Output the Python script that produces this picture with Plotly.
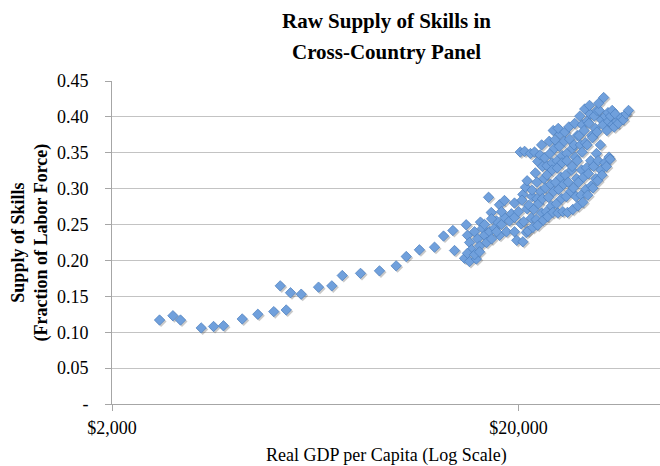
import math
import plotly.graph_objects as go

# Development path of lower-income countries (real GDP per capita, USD)
gdp_path = [2618, 2824, 2948, 3315, 3555, 3760, 4182, 4568, 5000, 5187, 5366,
            5497, 5841, 6443, 6946, 7370, 8173, 9100, 10000, 10590, 11410,
            12430, 13080, 13790, 13920, 14870, 16120, 16880, 17140, 17960, 18470]
skill_path = [0.117, 0.123, 0.117, 0.106, 0.108, 0.109, 0.1185, 0.125, 0.1287,
              0.1646, 0.131, 0.155, 0.153, 0.1628, 0.1646, 0.179, 0.182, 0.1855,
              0.1925, 0.2055, 0.2148, 0.2185, 0.234, 0.2417, 0.2138, 0.2497,
              0.2534, 0.288, 0.2668, 0.2775, 0.2835]

# Middle-income group just below $20,000
gdp_middle = [14730, 15150, 15750, 14980, 15160, 15330, 15590, 15860, 16040,
              16310, 16500, 16690, 16980, 17170, 17460, 17660, 17960, 18160,
              18470, 18680, 19000, 19210, 14980, 15590, 16040, 16500, 17170,
              17660, 18160, 19550, 19550, 19550]
skill_middle = [0.203, 0.1985, 0.202, 0.235, 0.225, 0.215, 0.240, 0.230, 0.220,
                0.245, 0.235, 0.225, 0.240, 0.230, 0.245, 0.255, 0.235, 0.250,
                0.260, 0.240, 0.255, 0.265, 0.210, 0.208, 0.212, 0.250, 0.258,
                0.240, 0.268, 0.240, 0.260, 0.280]

# High-income panel observations
gdp_high = [
    19800, 20300, 20000, 20500, 20200,
    20500, 20900, 20600, 21000, 20400, 20800, 20700,
    21100, 21500, 21200, 21600, 21000, 21400,
    21700, 22100, 21800, 22200, 21600, 22000, 22300, 21900,
    22300, 22800, 22400, 22700, 22200, 22900, 22600,
    23000, 23400, 22900, 23300, 23100, 23500, 23200, 22800,
    23600, 24100, 23700, 24000, 23500, 24200, 23900, 23800,
    24300, 24800, 24400, 24700, 24200, 24900, 24500, 24600, 24350,
    25000, 25500, 25100, 25400, 24900, 25600, 25200, 25300, 25050,
    25700, 26200, 25800, 26100, 25600, 26300, 25900, 26000,
    26400, 26900, 26500, 27000, 26300, 27100, 26700, 26600,
    27200, 27700, 27300, 27800, 27100, 27600, 27400, 27900, 27500,
    28000, 28500, 28100, 28600, 27900, 28400, 28200, 28700, 28300,
    28800, 29300, 28900, 29400, 28700, 29200, 29000, 29500, 29100,
    29600, 30200, 29700, 30100, 29500, 30300, 29800, 30000, 29900,
    30500, 31000, 30600, 31100, 30400, 30900, 30700, 31200,
    31300, 31900, 31400, 31800, 31200, 32000, 31600, 31500,
    32100, 32600, 32300, 32700, 32400,
    32900, 33400, 33000, 33300, 33200,
    33600, 34100, 33700, 34000,
    34400, 34900, 34600,
    35200, 35800,
    36200, 36800, 37300,
]
skill_high = [
    0.228, 0.251, 0.268, 0.292, 0.351,
    0.226, 0.239, 0.254, 0.272, 0.284, 0.302, 0.352,
    0.241, 0.259, 0.277, 0.289, 0.311, 0.349,
    0.246, 0.257, 0.271, 0.286, 0.298, 0.322, 0.338, 0.351,
    0.249, 0.266, 0.279, 0.296, 0.309, 0.331, 0.347,
    0.256, 0.268, 0.286, 0.301, 0.314, 0.332, 0.343, 0.361,
    0.261, 0.276, 0.288, 0.306, 0.319, 0.336, 0.349, 0.366,
    0.267, 0.279, 0.296, 0.309, 0.326, 0.339, 0.356, 0.368, 0.381,
    0.266, 0.286, 0.299, 0.316, 0.329, 0.346, 0.359, 0.376, 0.384,
    0.268, 0.289, 0.306, 0.319, 0.336, 0.349, 0.366, 0.379,
    0.267, 0.296, 0.309, 0.326, 0.339, 0.356, 0.369, 0.386,
    0.271, 0.289, 0.301, 0.314, 0.331, 0.344, 0.361, 0.374, 0.391,
    0.276, 0.291, 0.309, 0.326, 0.339, 0.361, 0.374, 0.389, 0.401,
    0.281, 0.299, 0.316, 0.329, 0.351, 0.364, 0.381, 0.394, 0.411,
    0.291, 0.304, 0.321, 0.339, 0.361, 0.374, 0.391, 0.404, 0.416,
    0.301, 0.314, 0.331, 0.349, 0.371, 0.384, 0.401, 0.409,
    0.311, 0.326, 0.339, 0.361, 0.379, 0.396, 0.409, 0.419,
    0.319, 0.336, 0.389, 0.401, 0.427,
    0.331, 0.344, 0.381, 0.394, 0.406,
    0.341, 0.389, 0.401, 0.409,
    0.386, 0.394, 0.404,
    0.391, 0.399,
    0.396, 0.404, 0.409,
]

x_tick_vals = [2000, 20000]
x_tick_text = ["$2,000", "$20,000"]
y_tick_vals = [0, 0.05, 0.10, 0.15, 0.20, 0.25, 0.30, 0.35, 0.40, 0.45]
y_tick_text = ["-", "0.05", "0.10", "0.15", "0.20", "0.25", "0.30", "0.35",
               "0.40", "0.45"]

gdp = gdp_path + gdp_middle + gdp_high
skill = skill_path + skill_middle + skill_high

W, H = 660, 466
ML, MR, MT, MB = 112, 0, 81, 62
plot_w = W - ML - MR
plot_h = H - MT - MB
px_per_decade = 406.5
x_lo = math.log10(2000)
x_hi = x_lo + plot_w / px_per_decade
y_lo, y_hi = 0.0, 0.45

# shadow offset (pixels right / down)
sh = 1.5
dx = sh * (x_hi - x_lo) / plot_w
dy = sh * (y_hi - y_lo) / plot_h

FONT = "Liberation Serif"
AXIS_GREY = "#a6a6a6"
GRID_GREY = "#c3c3c3"

fig = go.Figure()

# soft drop shadow under each diamond (base axes, shifted range)
fig.add_trace(go.Scatter(
    x=gdp, y=skill, mode="markers", xaxis="x", yaxis="y",
    marker=dict(symbol="diamond", size=8.5, color="rgba(60,60,60,0.28)",
                line=dict(width=0)),
    hoverinfo="skip", showlegend=False,
))

# the data
fig.add_trace(go.Scatter(
    x=gdp, y=skill, mode="markers", xaxis="x2", yaxis="y2",
    marker=dict(symbol="diamond", size=8, color="#70a0dc",
                line=dict(width=0.7, color="#4a7ebf")),
    showlegend=False,
))

fig.update_layout(
    width=W, height=H,
    margin=dict(l=ML, r=MR, t=MT, b=MB, pad=0),
    paper_bgcolor="white", plot_bgcolor="white",
    font=dict(family=FONT, size=18, color="black"),
    xaxis=dict(type="log", range=[x_lo - dx, x_hi - dx], visible=False,
               fixedrange=True),
    yaxis=dict(range=[y_lo + dy, y_hi + dy], visible=False, fixedrange=True),
    xaxis2=dict(
        type="log", range=[x_lo, x_hi], overlaying="x", anchor="y2",
        side="bottom", showgrid=False, zeroline=False,
        showline=True, linecolor=AXIS_GREY, linewidth=1,
        ticks="outside", ticklen=6, tickcolor=AXIS_GREY, tickwidth=1,
        tickvals=x_tick_vals, ticktext=x_tick_text,
        tickfont=dict(family=FONT, size=18, color="black"),
        ticklabelstandoff=1,
    ),
    yaxis2=dict(
        range=[y_lo, y_hi], overlaying="y", anchor="x2", side="left",
        showgrid=True, gridcolor=GRID_GREY, gridwidth=1, zeroline=False,
        showline=True, linecolor=AXIS_GREY, linewidth=1,
        ticks="outside", ticklen=6, tickcolor=AXIS_GREY, tickwidth=1,
        tickvals=y_tick_vals, ticktext=y_tick_text,
        tickfont=dict(family=FONT, size=18, color="black"),
        ticklabelstandoff=13,
    ),
    annotations=[
        dict(text="<b>Raw Supply of Skills in</b>", xref="paper", yref="paper",
             x=0.5, y=1, yshift=60, xanchor="center", yanchor="middle",
             showarrow=False, font=dict(family=FONT, size=21, color="black")),
        dict(text="<b>Cross-Country Panel</b>", xref="paper", yref="paper",
             x=0.5, y=1, yshift=29, xanchor="center", yanchor="middle",
             showarrow=False, font=dict(family=FONT, size=21, color="black")),
        dict(text="<b>Supply of Skills<br>(Fraction of Labor Force)</b>",
             xref="paper", yref="paper", x=0, y=0.5, xshift=-83,
             xanchor="center", yanchor="middle", textangle=-90,
             showarrow=False, font=dict(family=FONT, size=18, color="black")),
        dict(text="Real GDP per Capita (Log Scale)", xref="paper",
             yref="paper", x=0.5, y=0, yshift=-51, xanchor="center",
             yanchor="middle", showarrow=False,
             font=dict(family=FONT, size=18, color="black")),
    ],
)

fig.write_html("out.html")
